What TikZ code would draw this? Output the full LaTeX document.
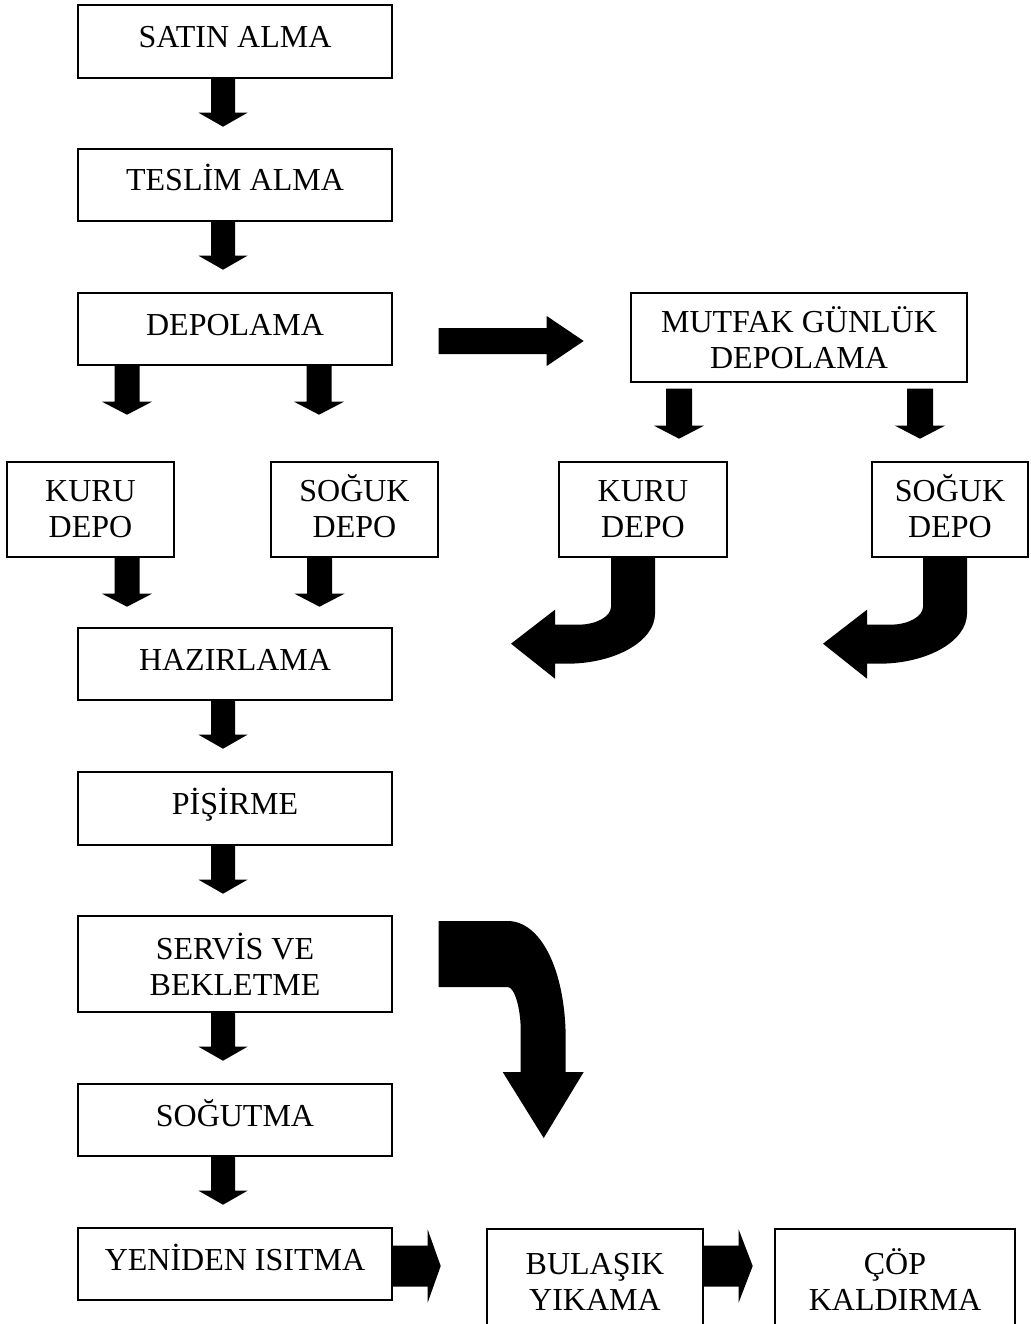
\documentclass[tikz,border=0pt]{standalone}
\usepackage{fontspec}
\setmainfont{Liberation Serif}
\usetikzlibrary{calc}
\tikzset{
  box/.style={draw, line width=1.4pt, inner sep=0pt, align=center,
    font=\fontsize{32}{36}\selectfont},
  onebox/.style={box, text height=22pt, text depth=10pt},
  blk/.style={fill=black, draw=none},
  pics/dnarrow/.style n args={4}{code={
    \fill[blk] (-#1,0) -- (#1,0) -- (#1,#3) -- (#2,#3) -- (0,#4) -- (-#2,#3) -- (-#1,#3) -- cycle;}},
  pics/rtarrow/.style n args={4}{code={
    \fill[blk] (0,-#1) -- (#3,-#1) -- (#3,-#2) -- (#4,0) -- (#3,#2) -- (#3,#1) -- (0,#1) -- cycle;}},
  pics/bentleft/.style={code={
    \fill[blk] (-32,0) -- (12,0) -- (12,56) .. controls (12,83.5) and (-28,106) .. (-76,106)
      -- (-88,106) -- (-88,121) -- (-132,86) -- (-88,52) -- (-88,67) -- (-65,67)
      .. controls (-47,67) and (-32,59) .. (-32,49) -- cycle;}},
  pics/bentdown/.style={code={
    \fill[blk] (46,-43) -- (115,-43) .. controls (148,-43) and (173,6) .. (173,76)
      -- (173,108) -- (191,108) -- (151,174) -- (110,108) -- (128,108) -- (128,66)
      .. controls (128,45) and (122,23) .. (115,23) -- (46,23) -- cycle;}}
}
\begin{document}
\begin{tikzpicture}[x=1pt, y=-1pt]
\useasboundingbox (0,0) rectangle (1030,1324);
\clip (0,0) rectangle (1030,1324);

\node[onebox, minimum width=314, minimum height=73] (sat) at (235,41.5) {SATIN ALMA};
\node[onebox, minimum width=314, minimum height=72] (tes) at (235,185) {TESLİM ALMA};
\node[onebox, minimum width=314, minimum height=72] (dep) at (235,329) {DEPOLAMA};
\node[box, minimum width=336, minimum height=89] (mgd) at (799,337.5) {MUTFAK GÜNLÜK\\DEPOLAMA};
\node[box, minimum width=167, minimum height=95] (k1) at (90.5,509.5) {KURU\\DEPO};
\node[box, minimum width=167, minimum height=95] (s1) at (354.5,509.5) {SO\smash{Ğ}UK\\DEPO};
\node[box, minimum width=168, minimum height=95] (k2) at (643,509.5) {KURU\\DEPO};
\node[box, minimum width=156, minimum height=95] (s2) at (950,509.5) {SO\smash{Ğ}UK\\DEPO};
\node[onebox, minimum width=314, minimum height=72] (haz) at (235,664) {HAZIRLAMA};
\node[onebox, minimum width=314, minimum height=73] (pis) at (235,808.5) {PİŞİRME};
\node[box, minimum width=314, minimum height=96] (ser) at (235,964) {SERVİS VE\\BEKLETME};
\node[onebox, minimum width=314, minimum height=72] (sog) at (235,1120) {SOĞUTMA};
\node[onebox, minimum width=314, minimum height=72] (yen) at (235,1264) {YENİDEN ISITMA};
\node[box, minimum width=216, minimum height=106] (bul) at (595,1282) {BULAŞIK\\YIKAMA};
\node[box, minimum width=240, minimum height=106] (cop) at (895,1282) {Ç\smash{Ö}P\\KALDIRMA};

% main column arrows
\pic at ($(sat.south)+(-12,0)$) {dnarrow={12}{24.5}{34}{48}};
\pic at ($(tes.south)+(-12,0)$) {dnarrow={12}{24.5}{34}{48}};
\pic at ($(haz.south)+(-12,0)$) {dnarrow={12}{24.5}{34}{48}};
\pic at ($(pis.south)+(-12,0)$) {dnarrow={12}{24.5}{34}{48}};
\pic at ($(ser.south)+(-12,0)$) {dnarrow={12}{24.5}{34}{48}};
\pic at ($(sog.south)+(-12,0)$) {dnarrow={12}{24.5}{34}{48}};
% depolama to depots
\pic at ($(dep.south)+(-108,0)$) {dnarrow={12.5}{25}{36}{49}};
\pic at ($(dep.south)+(84,0)$) {dnarrow={12.5}{25}{36}{49}};
\pic at ($(mgd.south)+(-120,6)$) {dnarrow={13}{25}{37}{50}};
\pic at ($(mgd.south)+(121,6)$) {dnarrow={13}{25}{37}{50}};
% depots to hazirlama
\pic at ($(k1.south)+(36.5,0)$) {dnarrow={12.5}{25}{36}{49}};
\pic at ($(s1.south)+(-35,0)$) {dnarrow={12.5}{25}{36}{49}};
% right arrows
\pic at ($(dep.east)+(46,12)$) {rtarrow={13}{25}{108}{145}};
\pic at ($(yen.east)+(0,2)$) {rtarrow={20.5}{36.5}{35}{48}};
\pic at ($(bul.east)+(0,-16)$) {rtarrow={20.5}{36.5}{35}{49}};
% bent arrows
\pic at (k2.south) {bentleft};
\pic at ($(s2.south)+(5,0)$) {bentleft};
\pic at (ser.east) {bentdown};
\end{tikzpicture}
\end{document}
